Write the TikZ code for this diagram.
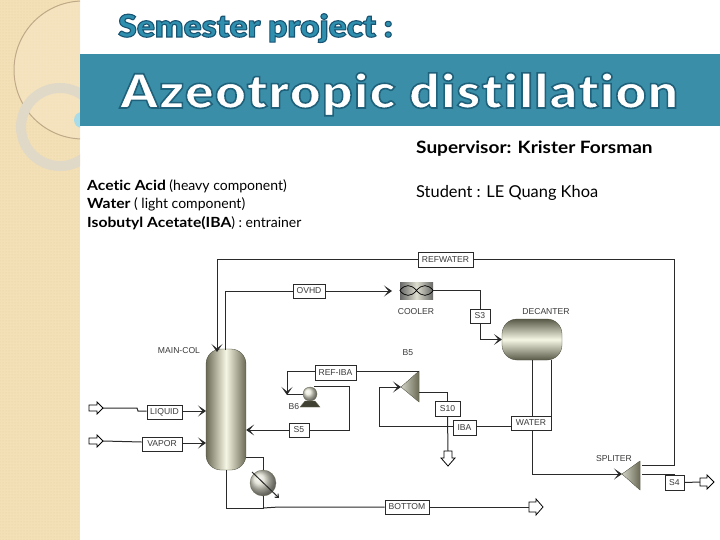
\documentclass[tikz,border=0pt]{standalone}
\usepackage{fontspec}
\setmainfont{Lato}
\newfontfamily\flowfont{Liberation Sans}
\newfontfamily\titlefont[LetterSpace=3,FakeStretch=1.13,Ligatures=NoCommon]{Lato Black}
\newfontfamily\semfont[FakeStretch=1.085,Ligatures=NoCommon]{Lato Black}
\newfontfamily\widebold[FakeStretch=1.12,Ligatures=NoCommon,BoldFont={Lato Bold}]{Lato}
\usetikzlibrary{arrows.meta,patterns,calc}
\definecolor{sidebar}{HTML}{F3E0B6}
\definecolor{sidedot}{HTML}{E9D3A2}
\definecolor{sidelight}{HTML}{F6E7C6}
\definecolor{ringc}{HTML}{E0D9C8}
\definecolor{arcc}{HTML}{BFA988}
\definecolor{band}{HTML}{3A8EA8}
\definecolor{semest}{HTML}{2F8FAE}
\definecolor{spot}{HTML}{A8DCE8}
\definecolor{eqdark}{HTML}{6A6A55}
\definecolor{eqlight}{HTML}{F6F6E4}
\definecolor{flowline}{HTML}{2A2A2A}
\definecolor{flowtext}{HTML}{3A3A3A}
\tikzset{
  sbox/.style={draw=flowline,fill=white,line width=.9pt,inner sep=0pt,font=\flowfont\fontsize{8.6}{9}\selectfont,text=flowtext},
  lab/.style={inner sep=0pt,font=\flowfont\fontsize{8.6}{9}\selectfont,text=flowtext},
  pipe/.style={draw=flowline,line width=1pt},
  flow/.style={pipe,-{Stealth[length=8pt,width=11pt,inset=4.5pt,fill=black]}},
  hollow/.style={draw=black,fill=white,line width=.8pt},
  body/.style={inner sep=0pt,anchor=base west,text=black},
}
\newcommand{\outlined}[3]{\special{pdf:code q 2 Tr #1 w #2 RG}#3\special{pdf:code 0 Tr Q}}
\begin{document}
\begin{tikzpicture}[x=1pt,y=-1pt]
\useasboundingbox (0,0) rectangle (720,540);
\fill[white] (0,0) rectangle (720,540);
% side bar
\fill[sidebar] (0,0) rectangle (80,540);
\fill[pattern=dots,pattern color=sidedot] (0,0) rectangle (80,540);
\begin{scope}
\clip (0,0) rectangle (80,540);
\fill[sidelight,opacity=.5] (83,70) circle (69);
\draw[arcc,line width=1pt] (83,70) circle (69);
\draw[ringc,line width=10pt] (60,127) circle (39);
\fill[spot] (82,120) circle (8);
\end{scope}
% band
\fill[band] (80,54) rectangle (720,126.5);
% titles
\node[inner sep=0pt,anchor=base west,text=semest,font=\semfont\fontsize{31}{33}\selectfont] (sem) at (118,37) {\outlined{1.1}{0.1 0.33 0.45}{Semester project :}};
\node[inner sep=0pt,anchor=base west,text=white,font=\titlefont\fontsize{47}{50}\selectfont] (title) at (120,108) {\outlined{1.6}{0.12 0.38 0.48}{Azeotropic distillation}};
% texts
\node[body,font=\widebold\fontsize{17}{19}\selectfont\bfseries] (sup) at (416,154) {Supervisor: Krister Forsman};
\node[body,font=\fontsize{16.4}{18}\selectfont] (stu) at (416,198) {Student : LE Quang Khoa};
\node[body,font=\fontsize{14}{16}\selectfont] (t1) at (87,191) {{\widebold\bfseries Acetic Acid} (heavy component)};
\node[body,font=\fontsize{14}{16}\selectfont] (t2) at (87,209) {{\widebold\bfseries Water} ( light component)};
\node[body,font=\fontsize{14}{16}\selectfont] (t3) at (87,227) {{\widebold\bfseries Isobutyl Acetate(IBA}) : entrainer};
% equipment
\node[draw=eqdark!70!black,line width=.3pt,minimum width=40pt,minimum height=121pt,rounded corners=15pt,left color=eqdark,right color=eqdark,middle color=eqlight,inner sep=0pt] (col) at (226,409.5) {};
\node[draw=eqdark!70!black,line width=.3pt,minimum width=60pt,minimum height=41pt,rounded corners=15pt,top color=eqdark!85!black,bottom color=eqdark!85!black,middle color=eqlight,inner sep=0pt] (dec) at (532,339.5) {};
\node[minimum width=33pt,minimum height=17pt,inner sep=0pt,left color=gray!80!black,right color=gray!80!black,middle color=eqlight!80!gray] (cool) at (416.5,290.5) {};
\draw[black,line width=.7pt] (cool.west) .. controls (405,284) and (411,284) .. (416.5,290.5) .. controls (422,297) and (428,297) .. (cool.east) .. controls (428,284) and (422,284) .. (416.5,290.5) .. controls (411,297) and (405,297) .. (cool.west);
\coordinate (tipB) at (401,387);
\fill[draw=eqdark,line width=.3pt,left color=eqlight!70!gray,right color=eqdark] (tipB) -- (419,371) -- (419,402) -- cycle;
\coordinate (tipS) at (622,474);
\fill[draw=eqdark,line width=.3pt,left color=eqlight!70!gray,right color=eqdark] (tipS) -- (640,461) -- (640,490) -- cycle;
\fill[draw=eqdark,line width=.3pt,fill=eqdark!60!black] (300,407) -- (305,401) -- (315,401) -- (320,407) -- cycle;
\node[circle,minimum size=14pt,inner sep=0pt,ball color=eqlight!85!gray,draw=eqdark,line width=.3pt] (pump) at (310,394) {};
\node[circle,minimum size=26pt,inner sep=0pt,ball color=eqlight!80!gray,draw=eqdark,line width=.3pt] (reb) at (263,483) {};
% stream boxes
\node[sbox,minimum width=55pt,minimum height=15pt] (refw) at (445.5,259.5) {REFWATER};
\node[sbox,minimum width=32pt,minimum height=14pt] (ovhd) at (309,291) {OVHD};
\node[sbox,minimum width=20pt,minimum height=14pt] (s3) at (480,316) {S3};
\node[sbox,minimum width=41pt,minimum height=15pt] (refiba) at (335.5,372.5) {REF-IBA};
\node[sbox,minimum width=25pt,minimum height=15pt] (s10) at (447.5,408.5) {S10};
\node[sbox,minimum width=23pt,minimum height=15pt] (iba) at (464.5,427.5) {IBA};
\node[sbox,minimum width=40pt,minimum height=14pt] (water) at (531,423) {WATER};
\node[sbox,minimum width=20pt,minimum height=14pt] (s5) at (299,430) {S5};
\node[sbox,minimum width=35pt,minimum height=14pt] (liquid) at (164.5,412) {LIQUID};
\node[sbox,minimum width=40pt,minimum height=14pt] (vapor) at (162,444) {VAPOR};
\node[sbox,minimum width=44pt,minimum height=14pt] (bottom) at (407,507) {BOTTOM};
\node[sbox,minimum width=19pt,minimum height=15pt] (s4) at (674.5,482.5) {S4};
% labels
\node[lab] (lmain) at (179,351) {MAIN-COL};
\node[lab] (lcool) at (416,312) {COOLER};
\node[lab] (ldec) at (546,312) {DECANTER};
\node[lab] (lb5) at (408,353) {B5};
\node[lab] (lb6) at (294,407) {B6};
\node[lab] (lspl) at (614,459) {SPLITER};
% helper points
\coordinate (liqin) at (103,408);
\coordinate (vapin) at (103,441);
\coordinate (botout) at (529,507);
\coordinate (s4out) at (700,482);
\coordinate (s10out) at (448,451);
% hollow arrows
\filldraw[hollow] (liqin) ++(-14,-3) -- ++(8,0) -- ++(0,-3) -- ++(6,6) -- ++(-6,6) -- ++(0,-3) -- ++(-8,0) -- cycle;
\filldraw[hollow] (vapin) ++(-14,-3) -- ++(8,0) -- ++(0,-3) -- ++(6,6) -- ++(-6,6) -- ++(0,-3) -- ++(-8,0) -- cycle;
\filldraw[hollow] (botout) ++(0,-5) -- ++(7,0) -- ++(0,-3) -- ++(7,8) -- ++(-7,8) -- ++(0,-3) -- ++(-7,0) -- cycle;
\filldraw[hollow] (s4out) ++(0,-4) -- ++(7,0) -- ++(0,-3) -- ++(7,7) -- ++(-7,7) -- ++(0,-3) -- ++(-7,0) -- cycle;
\filldraw[hollow] (s10out) ++(-4,0) -- ++(0,7) -- ++(-3,0) -- ++(7,8) -- ++(7,-8) -- ++(-3,0) -- ++(0,-7) -- cycle;
% connectors
\draw[flow] (refw.west |- 0,259) -| (217,352);
\draw[pipe] (refw.east |- 0,259) -| (674,465) -- (642,465);
\draw[pipe] (225,350) |- (ovhd.west);
\draw[flow] (ovhd.east) -- (392,291);
\draw[pipe] (cool.east) -| (s3.north);
\draw[flow] (s3.south) |- (dec.west);
\draw[pipe] (532,360) -- (532,416);
\draw[pipe] (551,360) -- (551,416);
\draw[flow] (532,430) |- (tipS);
\draw[pipe] (642,474) -| (s4.north);
\draw[pipe] (s4.east) -- (s4out);
\draw[pipe] (water.west |- 0,426) -- (iba.east |- 0,426);
\draw[flow] (iba.west |- 0,426) -| (379,387) -- (tipB);
\draw[pipe] (419,392) -| (s10.north);
\draw[pipe] (s10.south) -- (s10out);
\draw[pipe] (419,371) -- (refiba.east |- 0,371);
\draw[flow] (refiba.west |- 0,371) -| (287,395);
\draw[pipe] (287,394) -- (pump.west);
\draw[pipe] (pump.north) ++(4,0) -| (349,430) -- (s5.east);
\draw[flow] (s5.west) -- (col.east |- s5);
\draw[pipe] (liqin) -- (137,408) -- (138,411) -- (liquid.west |- 0,411);
\draw[pipe] (vapin) -- (vapor.west |- 0,442);
\draw[flow] (liquid.east |- 0,411) -- (206,411);
\draw[flow] (vapor.east |- 0,443) -- (206,443);
\draw[pipe] (246,457) -| (reb.north);
\draw[pipe] (col.south) |- (263,508) -- (reb.south);
\draw[pipe,-{Straight Barb[length=3pt,width=5pt]}] (252,472) -- (279,498);
\draw[pipe] (263,508) -- (279,507) -- (bottom.west);
\draw[pipe] (bottom.east) -- (botout);
\end{tikzpicture}
\end{document}
